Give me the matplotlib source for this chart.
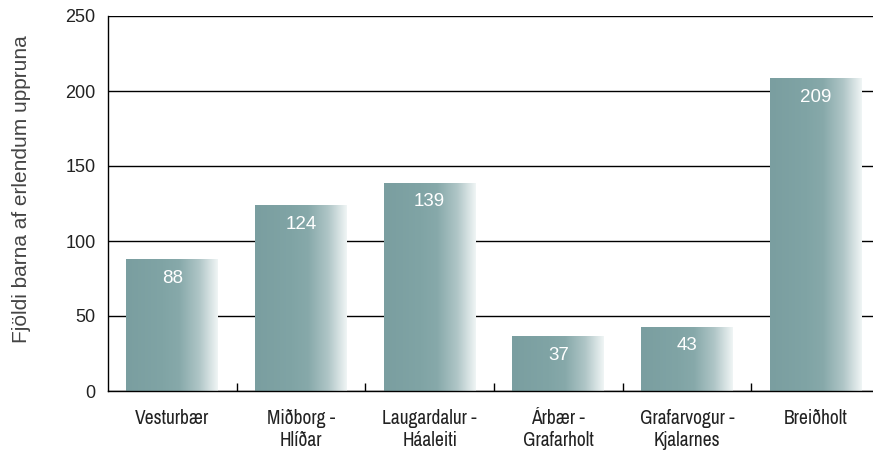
import matplotlib
matplotlib.use('Agg')
import matplotlib.pyplot as plt
import numpy as np
from matplotlib.colors import LinearSegmentedColormap

# Data
hverfi = ['Vesturbær', 'Miðborg -\nHlíðar', 'Laugardalur -\nHáaleiti',
          'Árbær -\nGrafarholt', 'Grafarvogur -\nKjalarnes', 'Breiðholt']
fjoldi = [88, 124, 139, 37, 43, 209]

fig = plt.figure(figsize=(8.73, 4.54), dpi=100)
ax = fig.add_axes([108 / 873, 1 - 391 / 454, 772 / 873, 375 / 454])

x = np.arange(len(hverfi))
bars = ax.bar(x, fjoldi, width=0.714, color='none', zorder=2)

# horizontal teal -> white gradient inside each bar
cmap = LinearSegmentedColormap.from_list(
    'teal', [(0.0, '#7a9ea0'), (0.40, '#80a4a5'), (0.58, '#87a9aa'),
             (0.80, '#b0c6c7'), (1.0, '#f0f5f5')])
grad = np.linspace(0, 1, 256).reshape(1, -1)
for b in bars:
    x0, w, h = b.get_x(), b.get_width(), b.get_height()
    im = ax.imshow(grad, cmap=cmap, aspect='auto', extent=[x0, x0 + w, 0, h],
                   zorder=2, interpolation='bilinear')
    im.set_clip_path(b)

for xi, v in zip(x, fjoldi):
    ax.text(xi, v - 13, str(v), ha='center', va='center', color='white',
            fontsize=13.5, family='Liberation Sans', zorder=3)

ax.set_xlim(-0.5, len(hverfi) - 0.5)
ax.set_ylim(0, 250)
ax.set_yticks([0, 50, 100, 150, 200, 250])
ax.yaxis.grid(True, color='black', linewidth=1.0, zorder=0)
ax.set_axisbelow(True)

for s in ['top', 'right']:
    ax.spines[s].set_visible(False)
ax.spines['left'].set_linewidth(1.0)
ax.spines['bottom'].set_linewidth(1.0)

ax.tick_params(axis='y', length=0, pad=9, labelsize=13, labelcolor='#222222')
for t in ax.get_yticklabels():
    t.set_family('Liberation Sans')

# category labels + boundary ticks on x axis
ax.set_xticks(x)
ax.set_xticklabels(hverfi, family='Archivo Narrow', fontsize=14,
                   linespacing=1.2, color='#222222')
ax.tick_params(axis='x', which='major', length=0, pad=13)
ax.set_xticks(np.arange(0.5, len(hverfi) - 0.5, 1), minor=True)
ax.tick_params(axis='x', which='minor', direction='in', length=6, width=1.0)

ax.set_ylabel('Fjöldi barna af erlendum uppruna', fontsize=15,
              color='#444444', family='Liberation Sans')
ax.yaxis.set_label_coords(-(108 - 31) / 772, (391 - 189) / 375)

fig.savefig('out.png', dpi=100)
